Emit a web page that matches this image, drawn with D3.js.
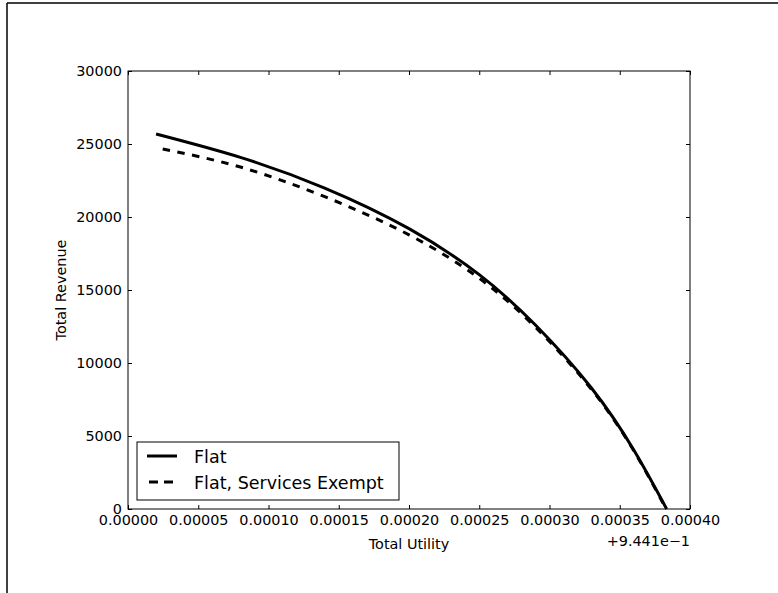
<!DOCTYPE html>
<html>
<head>
<meta charset="utf-8">
<script src="https://cdn.jsdelivr.net/npm/d3@7"></script>
<style>
  body { margin: 0; background: #fff; }
  svg { display: block; font-family: "DejaVu Sans", sans-serif; }
  .tick text { font-size: 14.4px; fill: #000; }
  .tick line { stroke: #000; }
  .label { font-size: 14.4px; fill: #000; }
  .legend-text { font-size: 17.5px; fill: #000; }
</style>
</head>
<body>
<svg id="chart" width="778" height="593"></svg>
<script>
// ----------

// utility is shown relative to the offset 0.9441
const FLAT_UTILITY = [0.00002, 0.00008, 0.00014, 0.0002, 0.00025, 0.00029, 0.00033, 0.00036, 0.0003834];
const FLAT_REVENUE = [25680, 24080, 21980, 19200, 16050, 12600, 8270, 4040, 0];

const EXEMPT_UTILITY = [0.0000247, 0.00008, 0.00014, 0.0002, 0.00025, 0.00029, 0.00033, 0.00036, 0.000383];
const EXEMPT_REVENUE = [24660, 23420, 21390, 18780, 15800, 12450, 8180, 3990, 0];

const X_TICKS = [0, 0.00005, 0.0001, 0.00015, 0.0002, 0.00025, 0.0003, 0.00035, 0.0004];
const Y_TICKS = [0, 5000, 10000, 15000, 20000, 25000, 30000];

const SERIES_NAMES = ["Flat", "Flat, Services Exempt"];
const OFFSET_TEXT = "+9.441e\u22121";

const MARGIN = { left: 128, top: 71, right: 690, bottom: 509 };

// ----------

const svg = d3.select("#chart");

// figure border (left and top edge only are visible)
svg.append("line").attr("x1", 7).attr("y1", 3).attr("x2", 7).attr("y2", 593)
  .attr("stroke", "#000").attr("stroke-width", 1.5);
svg.append("line").attr("x1", 7).attr("y1", 3).attr("x2", 778).attr("y2", 3)
  .attr("stroke", "#000").attr("stroke-width", 1.5);

const x = d3.scaleLinear().domain([0, 0.0004]).range([MARGIN.left, MARGIN.right]);
const y = d3.scaleLinear().domain([0, 30000]).range([MARGIN.bottom, MARGIN.top]);

// axes, ticks point inward on all four sides
function styleAxis(g) {
  g.select(".domain").remove();
}

svg.append("g")
  .attr("transform", `translate(0,${MARGIN.bottom})`)
  .call(d3.axisBottom(x).tickValues(X_TICKS).tickFormat(d3.format(".5f")).tickSize(-4).tickPadding(6))
  .call(styleAxis);

svg.append("g")
  .attr("transform", `translate(0,${MARGIN.top})`)
  .call(d3.axisTop(x).tickValues(X_TICKS).tickFormat("").tickSize(-4))
  .call(styleAxis);

svg.append("g")
  .attr("transform", `translate(${MARGIN.left},0)`)
  .call(d3.axisLeft(y).tickValues(Y_TICKS).tickFormat(d3.format("d")).tickSize(-4).tickPadding(6))
  .call(styleAxis);

svg.append("g")
  .attr("transform", `translate(${MARGIN.right},0)`)
  .call(d3.axisRight(y).tickValues(Y_TICKS).tickFormat("").tickSize(-4))
  .call(styleAxis);

svg.selectAll(".tick text").attr("font-family", "DejaVu Sans").attr("font-size", 14.4);

// frame
svg.append("rect")
  .attr("x", MARGIN.left).attr("y", MARGIN.top)
  .attr("width", MARGIN.right - MARGIN.left).attr("height", MARGIN.bottom - MARGIN.top)
  .attr("fill", "none").attr("stroke", "#000").attr("stroke-width", 1);

// ---------- curves

const line = d3.line()
  .x(d => x(d[0]))
  .y(d => y(d[1]))
  .curve(d3.curveNatural);

const flatData = d3.zip(FLAT_UTILITY, FLAT_REVENUE);
const exemptData = d3.zip(EXEMPT_UTILITY, EXEMPT_REVENUE);

svg.append("path")
  .datum(exemptData)
  .attr("d", line)
  .attr("fill", "none")
  .attr("stroke", "#000")
  .attr("stroke-width", 3)
  .attr("stroke-dasharray", "7.5,7.5");

svg.append("path")
  .datum(flatData)
  .attr("d", line)
  .attr("fill", "none")
  .attr("stroke", "#000")
  .attr("stroke-width", 3);

// ---------- labels

svg.append("text")
  .attr("class", "label")
  .attr("x", (MARGIN.left + MARGIN.right) / 2)
  .attr("y", 549)
  .attr("text-anchor", "middle")
  .text("Total Utility");

svg.append("text")
  .attr("class", "label")
  .attr("x", MARGIN.right)
  .attr("y", 546)
  .attr("text-anchor", "end")
  .text(OFFSET_TEXT);

svg.append("text")
  .attr("class", "label")
  .attr("transform", `translate(66,${(MARGIN.top + MARGIN.bottom) / 2}) rotate(-90)`)
  .attr("text-anchor", "middle")
  .text("Total Revenue");

// ---------- legend

const legend = svg.append("g");
legend.append("rect")
  .attr("x", 137).attr("y", 442)
  .attr("width", 262).attr("height", 58)
  .attr("fill", "#fff").attr("stroke", "#000").attr("stroke-width", 1);

SERIES_NAMES.forEach(function (name, i) {
  const cy = 456 + i * 26;
  legend.append("line")
    .attr("x1", 147).attr("x2", 177)
    .attr("y1", cy).attr("y2", cy)
    .attr("stroke", "#000").attr("stroke-width", 3)
    .attr("stroke-dasharray", i === 1 ? "9,6" : null)
    .attr("transform", i === 1 ? "translate(2,0)" : null);
  legend.append("text")
    .attr("class", "legend-text")
    .attr("x", 194)
    .attr("y", cy + 7)
    .text(name);
});
</script>
</body>
</html>
